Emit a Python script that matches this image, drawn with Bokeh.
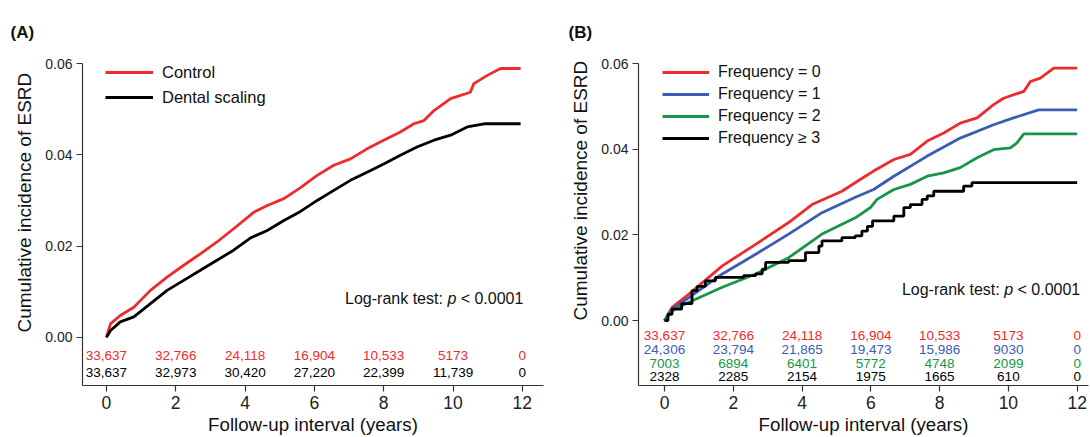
from bokeh.plotting import figure
from bokeh.layouts import row
from bokeh.models import (Range1d, FixedTicker, Legend, LegendItem, Label, Title,
                          ColumnDataSource, NumeralTickFormatter)
from bokeh.core.properties import value
from bokeh.embed import file_html
from bokeh.resources import INLINE

FONT = "Liberation Sans"
RED = "#ee2b2b"
BLUE = "#3d5bb5"
GREEN = "#17954a"
BLACK = "#000000"

# ---------------- data: panel A ----------------
a_ctrl_t = [0, 0.12, 0.4, 0.79, 1.27, 1.75, 2.23, 2.71, 3.19, 3.67, 4.25, 4.64, 5.12, 5.6,
            6.08, 6.56, 7.04, 7.52, 8.0, 8.48, 8.87, 9.16, 9.45, 9.93, 10.5, 10.6, 10.99,
            11.37, 11.95]
a_ctrl_v = [0, 0.0030, 0.0048, 0.0066, 0.0103, 0.0132, 0.0158, 0.0183, 0.0209, 0.0238,
            0.0274, 0.0289, 0.0304, 0.0328, 0.0355, 0.0377, 0.0391, 0.0413, 0.0432, 0.0450,
            0.0468, 0.0475, 0.0497, 0.0523, 0.0537, 0.0556, 0.0574, 0.0589, 0.0589]
a_scal_t = [0, 0.12, 0.4, 0.79, 1.27, 1.75, 2.23, 2.71, 3.19, 3.67, 4.16, 4.64, 5.12, 5.6,
            6.08, 6.56, 7.04, 7.52, 8.0, 8.48, 8.96, 9.45, 9.93, 10.41, 10.9, 11.95]
a_scal_v = [0, 0.0015, 0.0034, 0.0045, 0.0074, 0.0103, 0.0125, 0.0147, 0.0169, 0.0191,
            0.0218, 0.0234, 0.0256, 0.0276, 0.0300, 0.0322, 0.0344, 0.0362, 0.0380, 0.0399,
            0.0417, 0.0432, 0.0443, 0.0461, 0.0468, 0.0468]
risk_times = [0, 2, 4, 6, 8, 10, 12]
a_ctrl_risk = [33637, 32766, 24118, 16904, 10533, 5173, 0]
a_scal_risk = [33637, 32973, 30420, 27220, 22399, 11739, 0]

# ---------------- data: panel B ----------------
b0_t = [0, 0.22, 0.71, 1.68, 2.65, 3.61, 4.29, 5.16, 5.7, 6.08, 6.67, 7.15, 7.64, 8.12,
        8.6, 9.09, 9.57, 9.86, 10.45, 10.64, 10.93, 11.32, 12.0]
b0_v = [0, 0.0031, 0.0062, 0.0128, 0.0178, 0.0229, 0.0271, 0.0302, 0.0330, 0.0349, 0.0376,
        0.0388, 0.0419, 0.0438, 0.0461, 0.0473, 0.0504, 0.0519, 0.0535, 0.0558, 0.0566,
        0.0589, 0.0589]
b1_t = [0, 0.22, 0.71, 1.68, 2.65, 3.61, 4.58, 5.55, 6.08, 6.67, 7.64, 8.6, 9.57, 10.15,
        10.88, 12.0]
b1_v = [0, 0.0027, 0.0054, 0.0109, 0.0155, 0.0202, 0.0252, 0.0288, 0.0306, 0.0337, 0.0384,
        0.0426, 0.0457, 0.0473, 0.0492, 0.0492]
b2_t = [0, 0.22, 0.71, 1.68, 2.65, 3.61, 4.58, 5.55, 5.99, 6.18, 6.67, 7.15, 7.64, 8.12,
        8.6, 9.09, 9.57, 10.06, 10.25, 10.45, 12.0]
b2_v = [0, 0.0023, 0.0043, 0.0078, 0.0109, 0.0147, 0.0202, 0.0240, 0.0264, 0.0283, 0.0306,
        0.0318, 0.0337, 0.0345, 0.0357, 0.0380, 0.0399, 0.0403, 0.0415, 0.0436, 0.0436]
b3_t = [0, 0.1, 0.22, 0.5, 0.8, 0.95, 1.19, 1.48, 2.3, 2.65, 2.84, 2.94, 3.61, 4.1, 4.49,
        4.58, 5.16, 5.55, 5.74, 5.9, 6.05, 6.67, 6.96, 7.15, 7.49, 7.64, 7.83, 8.7, 8.94,
        12.0]
b3_v = [0, 0.0015, 0.0027, 0.0040, 0.0070, 0.0080, 0.0093, 0.0101, 0.0105, 0.0109, 0.0120,
        0.0136, 0.0140, 0.0159, 0.0174, 0.0186, 0.0194, 0.0198, 0.0209, 0.0220, 0.0233,
        0.0244, 0.0264, 0.0271, 0.0283, 0.0291, 0.0302, 0.0314, 0.0322, 0.0322]
b0_risk = [33637, 32766, 24118, 16904, 10533, 5173, 0]
b1_risk = [24306, 23794, 21865, 19473, 15986, 9030, 0]
b2_risk = [7003, 6894, 6401, 5772, 4748, 2099, 0]
b3_risk = [2328, 2285, 2154, 1975, 1665, 610, 0]

x_ticks = [0, 2, 4, 6, 8, 10, 12]
y_ticks = [0, 0.02, 0.04, 0.06]


def fmt(n):
    return f"{n:,}" if n >= 10000 else str(n)


def make_fig(x_rng, y_rng, border_left, border_right, border_top, panel, title_offset,
             ylabel_offset):
    p = figure(width=545, height=437, output_backend="svg", toolbar_location=None,
               x_range=Range1d(*x_rng), y_range=Range1d(*y_rng),
               min_border_left=border_left, min_border_right=border_right,
               min_border_top=border_top, min_border_bottom=52)
    p.title.text = panel
    p.title.align = "left"
    p.title.vertical_align = "top"
    p.title.offset = title_offset
    p.title.standoff = 40
    p.title.text_font = FONT
    p.title.text_font_style = "bold"
    p.title.text_font_size = "17px"
    p.title.text_color = "#111111"
    p.xgrid.visible = False
    p.ygrid.visible = False
    p.outline_line_color = None
    p.xaxis.ticker = FixedTicker(ticks=x_ticks)
    p.yaxis.ticker = FixedTicker(ticks=y_ticks)
    p.yaxis.formatter = NumeralTickFormatter(format="0.00")
    for ax in (p.xaxis[0], p.yaxis[0]):
        ax.axis_line_color = "#333333"
        ax.axis_line_width = 1.2
        ax.major_tick_line_color = "#333333"
        ax.major_tick_line_width = 1.2
        ax.minor_tick_line_color = None
        ax.major_tick_out = 6
        ax.major_tick_in = 0
        ax.axis_label_text_font = FONT
        ax.axis_label_text_font_style = "normal"
        ax.axis_label_text_font_size = "18.7px"
        ax.axis_label_text_color = "#111111"
        ax.major_label_text_font = FONT
        ax.major_label_text_color = "#222222"
    p.xaxis.major_label_text_font_size = "17.5px"
    p.yaxis.major_label_text_font_size = "14px"
    p.xaxis.major_label_standoff = 4
    p.xaxis.axis_label_standoff = 2
    p.yaxis.major_label_standoff = 4
    p.xaxis.axis_label = "Follow-up interval (years)"
    # y label as a side title so it can sit centred on the 0-0.06 span
    p.add_layout(Title(text="Cumulative incidence of ESRD", align="left",
                       offset=ylabel_offset, standoff=16, text_font=FONT,
                       text_font_style="normal", text_font_size="19px",
                       text_color="#111111"), "left")
    return p


def risk_row(p, counts, y, color):
    src = ColumnDataSource(dict(x=risk_times, y=[y] * len(risk_times),
                                text=[fmt(c) for c in counts]))
    p.text(x="x", y="y", text="text", source=src, text_font=value(FONT),
           text_font_size=value("13.5px"), text_align="center",
           text_baseline="middle", text_color=color)


def logrank(p, x, y):
    common = dict(x=x, y=y, text_align="right", text_baseline="middle",
                  text_font=FONT, text_font_size="16px", text_color="#111111")
    p.add_layout(Label(text="< 0.0001", **common))
    p.add_layout(Label(text="p", x_offset=-67, text_font_style="italic", **common))
    p.add_layout(Label(text="Log-rank test:", x_offset=-80.5, **common))


# ---------------- panel A ----------------
pa = make_fig((-0.69, 12.61), (-0.01054, 0.06), 82, 2, 63, "(A)", -72, 53)
ra = pa.line(a_ctrl_t, a_ctrl_v, line_color=RED, line_width=2.8)
rb = pa.line(a_scal_t, a_scal_v, line_color=BLACK, line_width=2.8)
risk_row(pa, a_ctrl_risk, -0.0039, RED)
risk_row(pa, a_scal_risk, -0.0077, BLACK)
logrank(pa, 12.03, 0.0085)
leg_a = Legend(items=[LegendItem(label="Control", renderers=[ra]),
                      LegendItem(label="Dental scaling", renderers=[rb])],
               location=(23, 278), glyph_width=48, glyph_height=20, label_height=20,
               spacing=5, padding=0, margin=0, label_standoff=9,
               label_text_font=FONT, label_text_font_size="16.5px",
               label_text_color="#111111", border_line_color=None,
               background_fill_alpha=0)
pa.add_layout(leg_a)

# ---------------- panel B ----------------
pb = make_fig((-0.756, 12.33), (-0.01512, 0.06), 93, 2, 62, "(B)", -70, 65)
r0 = pb.line(b0_t, b0_v, line_color=RED, line_width=2.8)
r1 = pb.line(b1_t, b1_v, line_color=BLUE, line_width=2.8)
r2 = pb.line(b2_t, b2_v, line_color=GREEN, line_width=2.8)
r3 = pb.step(b3_t, b3_v, mode="after", line_color=BLACK, line_width=2.8)
risk_row(pb, b0_risk, -0.0035, RED)
risk_row(pb, b1_risk, -0.0067, BLUE)
risk_row(pb, b2_risk, -0.0099, GREEN)
risk_row(pb, b3_risk, -0.0130, BLACK)
logrank(pb, 12.09, 0.0072)
leg_b = Legend(items=[LegendItem(label="Frequency = 0", renderers=[r0]),
                      LegendItem(label="Frequency = 1", renderers=[r1]),
                      LegendItem(label="Frequency = 2", renderers=[r2]),
                      LegendItem(label="Frequency \u2265 3", renderers=[r3])],
               location=(24, 237), glyph_width=47, glyph_height=20, label_height=20,
               spacing=2, padding=0, margin=0, label_standoff=9,
               label_text_font=FONT, label_text_font_size="16px",
               label_text_color="#111111", border_line_color=None,
               background_fill_alpha=0)
pb.add_layout(leg_b)

layout = row(pa, pb)
open("out.html", "w").write(file_html(layout, INLINE))
